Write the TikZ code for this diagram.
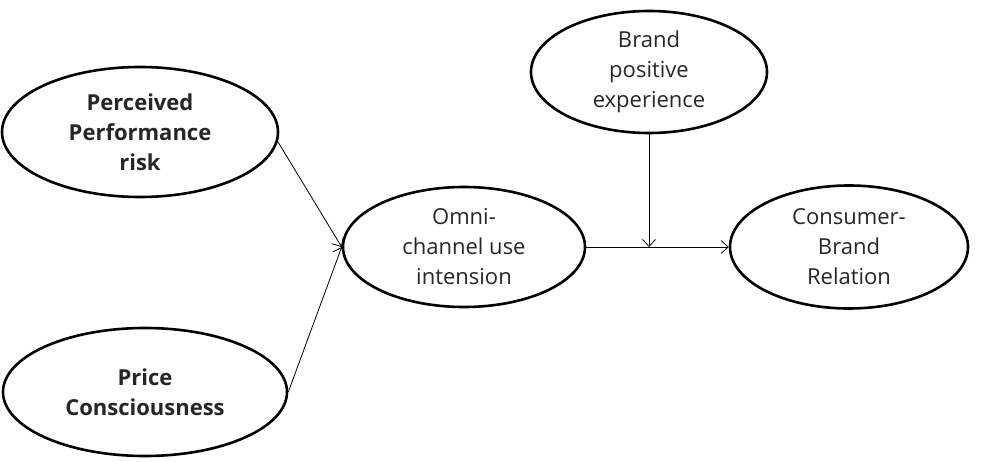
\documentclass[tikz,border=0pt]{standalone}
\usepackage{fontspec}
\setmainfont{Open Sans}
\usetikzlibrary{shapes.geometric,arrows.meta}
\begin{document}
\begin{tikzpicture}[x=1pt,y=-1pt,
  ell/.style={draw, ellipse, line width=2.6pt, inner sep=0pt, align=center,
    font=\fontsize{22}{30}\selectfont, text=black!85},
  bold/.style={font=\fontsize{22}{30}\selectfont\bfseries},
  conn/.style={line width=0.8pt, -{Straight Barb[length=7pt,width=13pt]}}]
\useasboundingbox (0,0) rectangle (989,462);
\node[ell, bold, minimum width=276pt, minimum height=130pt] (p1) at (140,132) {Perceived\\Performance\\risk};
\node[ell, bold, minimum width=284pt, minimum height=128pt] (p2) at (145,392) {Price\\Consciousness};
\node[ell, minimum width=242pt, minimum height=120pt] (omni) at (464,247) {Omni-\\channel use\\intension};
\node[ell, minimum width=236pt, minimum height=122pt] (bpe) at (649,72) {Brand\\positive\\experience};
\node[ell, minimum width=238pt, minimum height=123pt] (cbr) at (849,247) {Consumer-\\Brand\\Relation};
\coordinate (m) at (649,247);
\draw[conn] (p1.-4) -- (omni.west);
\draw[conn] (p2.east) -- (omni.west);
\draw[conn] (omni.east) -- (cbr.west);
\draw[conn] (bpe.south) -- (m);
\end{tikzpicture}
\end{document}
